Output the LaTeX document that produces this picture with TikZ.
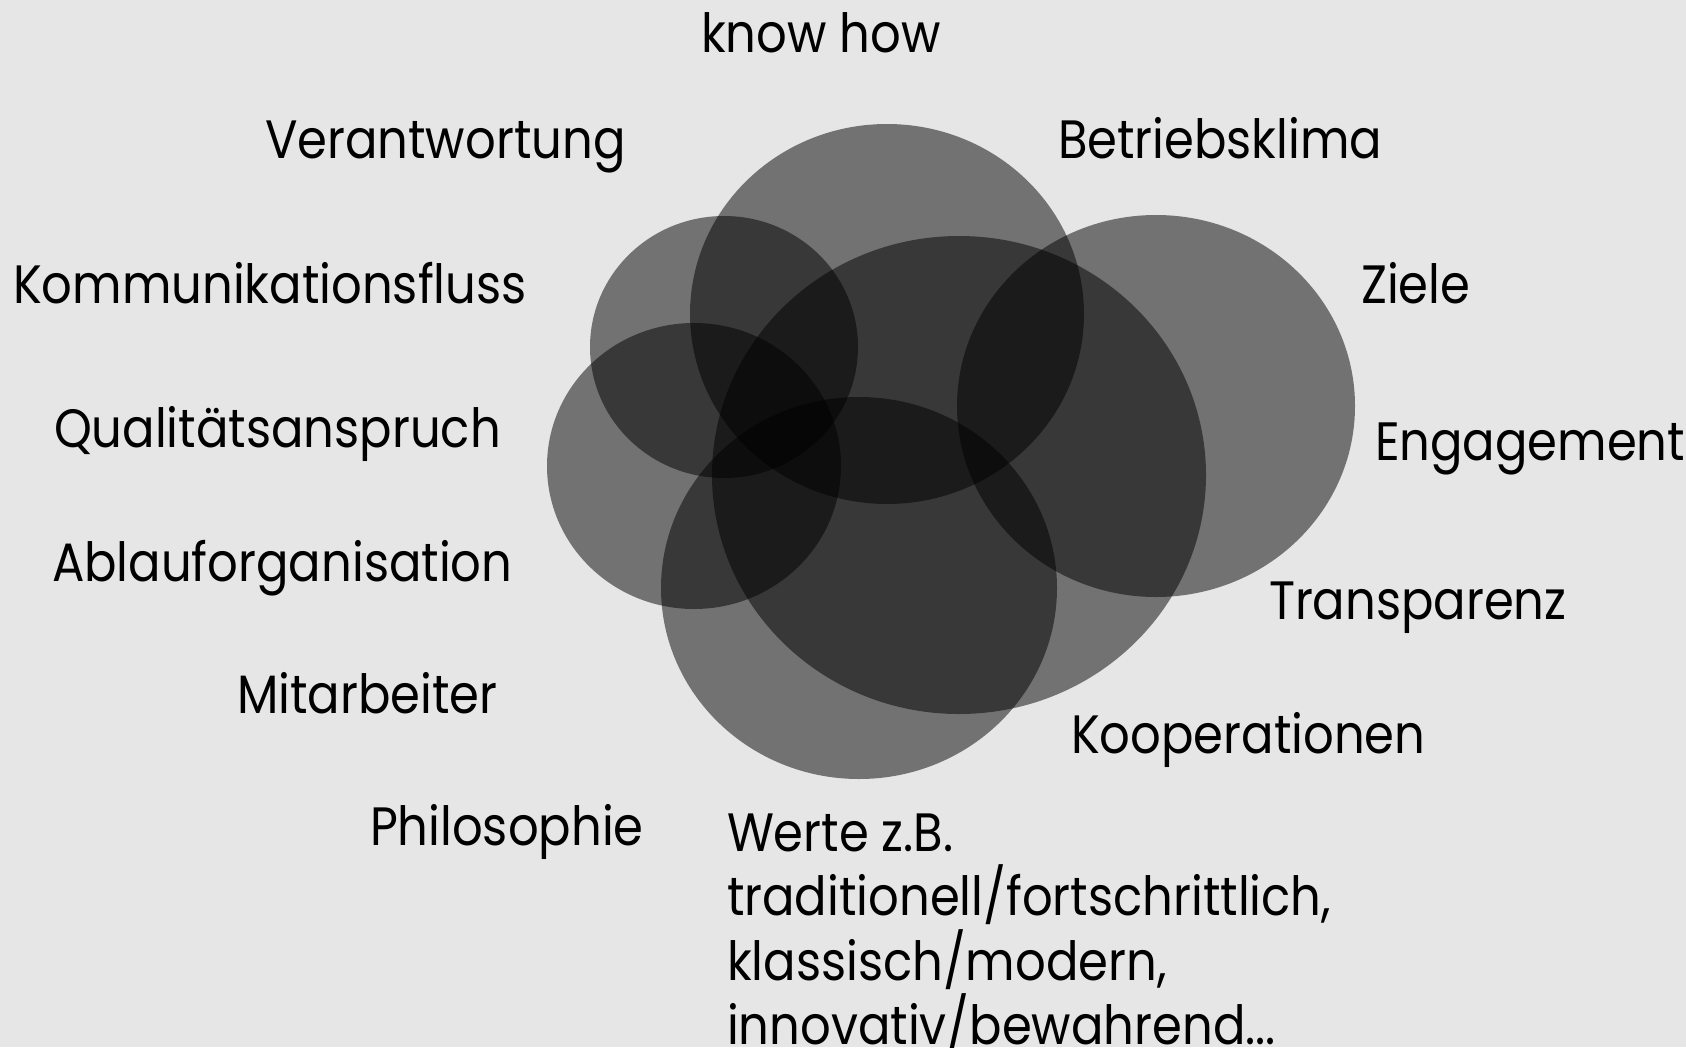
\documentclass[tikz,border=0pt]{standalone}
\usepackage{fontspec}
\setmainfont{Poppins}[FakeStretch=0.89]
\definecolor{bg}{HTML}{E6E6E6}
\tikzset{
  blob/.style={fill=black, fill opacity=0.5, draw=none},
  lbl/.style={anchor=base west, inner sep=0pt, outer sep=0pt, text=black, font=\fontsize{54}{64.5}\selectfont}
}
\begin{document}
\begin{tikzpicture}[x=1pt,y=-1pt]
\useasboundingbox (0,0) rectangle (1686,1047);
\fill[bg] (0,0) rectangle (1686,1047);
% circles
\fill[blob] (887,314) ellipse [x radius=197, y radius=190];
\fill[blob] (724,347) ellipse [x radius=134, y radius=131];
\fill[blob] (694,466) ellipse [x radius=147, y radius=143];
\fill[blob] (959,475) ellipse [x radius=247, y radius=239];
\fill[blob] (1156,406) ellipse [x radius=199, y radius=191];
\fill[blob] (859,588) ellipse [x radius=198, y radius=191];
% labels
\node[lbl] (knowhow) at (701,52) {know how};
\node[lbl] (verantwortung) at (265,158) {Verantwortung};
\node[lbl] (betriebsklima) at (1058,158) {Betriebsklima};
\node[lbl] (kommunikation) at (13,303) {Kommunikationsfluss};
\node[lbl] (ziele) at (1361,303) {Ziele};
\node[lbl] (qualitaet) at (54,447) {Qualitätsanspruch};
\node[lbl] (engagement) at (1375,460) {Engagement};
\node[lbl] (ablauf) at (52,581) {Ablauforganisation};
\node[lbl] (transparenz) at (1269,619) {Transparenz};
\node[lbl] (mitarbeiter) at (237,713) {Mitarbeiter};
\node[lbl] (kooperationen) at (1071,753) {Kooperationen};
\node[lbl] (philosophie) at (370,845) {Philosophie};
\node[lbl, align=left] (werte) at (727,1044.5) {Werte z.B.\\traditionell/fortschrittlich,\\klassisch/modern,\\innovativ/bewahrend...};
\end{tikzpicture}
\end{document}
